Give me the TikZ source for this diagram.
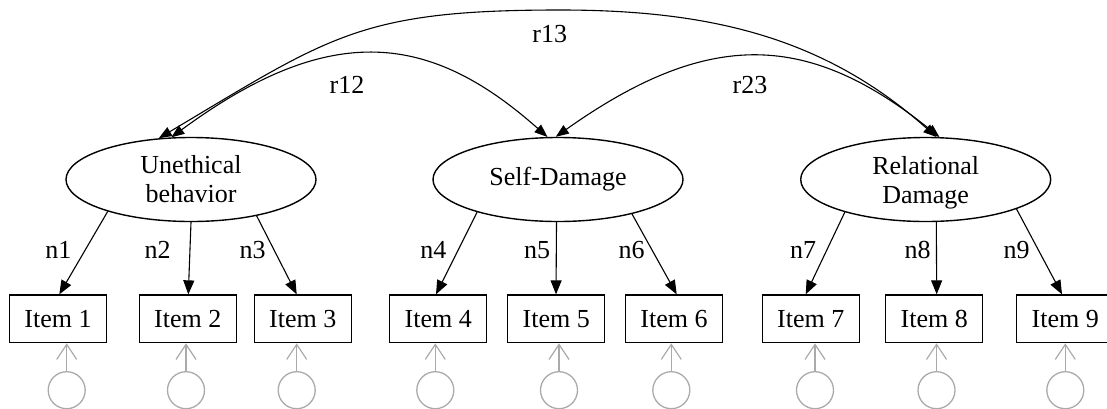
\documentclass[tikz,border=0pt]{standalone}
\usepackage{fontspec}
\setmainfont{Liberation Serif}
\newfontfamily\timesfont{Liberation Serif}
\usetikzlibrary{shapes.geometric,arrows.meta}
\definecolor{errgray}{RGB}{170,170,170}
\begin{document}
\begin{tikzpicture}[x=1pt,y=-1pt, font=\timesfont\fontsize{26}{29}\selectfont,
  latent/.style={ellipse, draw, line width=1.4pt, minimum width=250pt, minimum height=84pt, inner sep=0pt, align=center},
  itembox/.style={rectangle, draw, line width=1.3pt, minimum width=97pt, minimum height=47.7pt, inner sep=0pt, text height=18pt, text depth=-7.7pt},
  errnode/.style={circle, draw=errgray, line width=1.3pt, minimum size=37pt, inner sep=0pt},
  loadarrow/.style={line width=1.1pt, -{Triangle[length=14pt,width=11pt]}},
  covarrow/.style={line width=1.1pt, {Triangle[length=13pt,width=10pt]}-{Triangle[length=13pt,width=10pt]}},
  errarrow/.style={draw=errgray, line width=1.2pt, -{Straight Barb[length=15pt,width=20pt]}},
  lab/.style={anchor=base, inner sep=0pt}]
\useasboundingbox (0,0) rectangle (1107,408);

% latent variables
\node[latent] (U) at (191,179.5) {Unethical\\behavior};
\node[latent] (S) at (558,179.5) {Self-Damage};
\node[latent, text depth=0pt] (R) at (925.7,179.5) {Relational\\Damage};

% items
\node[itembox] (I1) at (58,318.85) {Item 1};
\node[itembox] (I2) at (187.7,318.85) {Item 2};
\node[itembox] (I3) at (302.8,318.85) {Item 3};
\node[itembox] (I4) at (438.3,318.85) {Item 4};
\node[itembox] (I5) at (556.2,318.85) {Item 5};
\node[itembox] (I6) at (674,318.85) {Item 6};
\node[itembox] (I7) at (810.7,318.85) {Item 7};
\node[itembox] (I8) at (934.3,318.85) {Item 8};
\node[itembox] (I9) at (1065.2,318.85) {Item 9};

% error terms
\node[errnode] (E1) at (66.7,390.2) {};
\node[errnode] (E2) at (186,390.2) {};
\node[errnode] (E3) at (296.7,390.2) {};
\node[errnode] (E4) at (435.3,390.2) {};
\node[errnode] (E5) at (559,390.2) {};
\node[errnode] (E6) at (671.3,390.2) {};
\node[errnode] (E7) at (815,390.2) {};
\node[errnode] (E8) at (936.5,390.2) {};
\node[errnode] (E9) at (1065.3,390.2) {};

\foreach \k in {1,...,9}{
  \draw[errarrow] (E\k.north) -- (E\k.north |- I\k.south);
}

% loadings
\draw[loadarrow] (U.201.9) -- ([xshift=1.3pt]I1.north);
\draw[loadarrow] (U.270) -- ([xshift=0.6pt]I2.north);
\draw[loadarrow] (U.331.1) -- ([xshift=-6.1pt]I3.north);
\draw[loadarrow] (S.202.3) -- ([xshift=-2.3pt]I4.north);
\draw[loadarrow] (S.268) -- ([xshift=-0.2pt]I5.north);
\draw[loadarrow] (S.335.4) -- ([xshift=2.7pt]I6.north);
\draw[loadarrow] (R.202.4) -- ([xshift=-5pt]I7.north);
\draw[loadarrow] (R.284) -- ([xshift=2.4pt]I8.north);
\draw[loadarrow] (R.342.2) -- ([xshift=-3.2pt]I9.north);

\node[lab] (n1) at (58.3,258.3) {n1};
\node[lab] (n2) at (157.5,258.3) {n2};
\node[lab] (n3) at (252.5,258.3) {n3};
\node[lab] (n4) at (433.3,258.3) {n4};
\node[lab] (n5) at (537,258.3) {n5};
\node[lab] (n6) at (631.7,258.3) {n6};
\node[lab] (n7) at (803,258.3) {n7};
\node[lab] (n8) at (917.5,258.3) {n8};
\node[lab] (n9) at (1016.7,258.3) {n9};

% covariances
\coordinate (top13) at (560,10);
\draw[covarrow] (U.115) .. controls (332.2,18.8) and (431.5,34.1) .. (S.104);
\draw[covarrow] (U.128) .. controls (330.7,35.9) and (360,10) .. (top13)
                .. controls (710,10) and (824.5,37.2) .. (R.76);
\draw[covarrow] (S.93) .. controls (710.5,27.1) and (809.5,32.8) .. (R.72);

\node[lab] (r12) at (347,93.3) {r12};
\node[lab] (r13) at (549.7,42) {r13};
\node[lab] (r23) at (750,93.3) {r23};
\end{tikzpicture}
\end{document}
